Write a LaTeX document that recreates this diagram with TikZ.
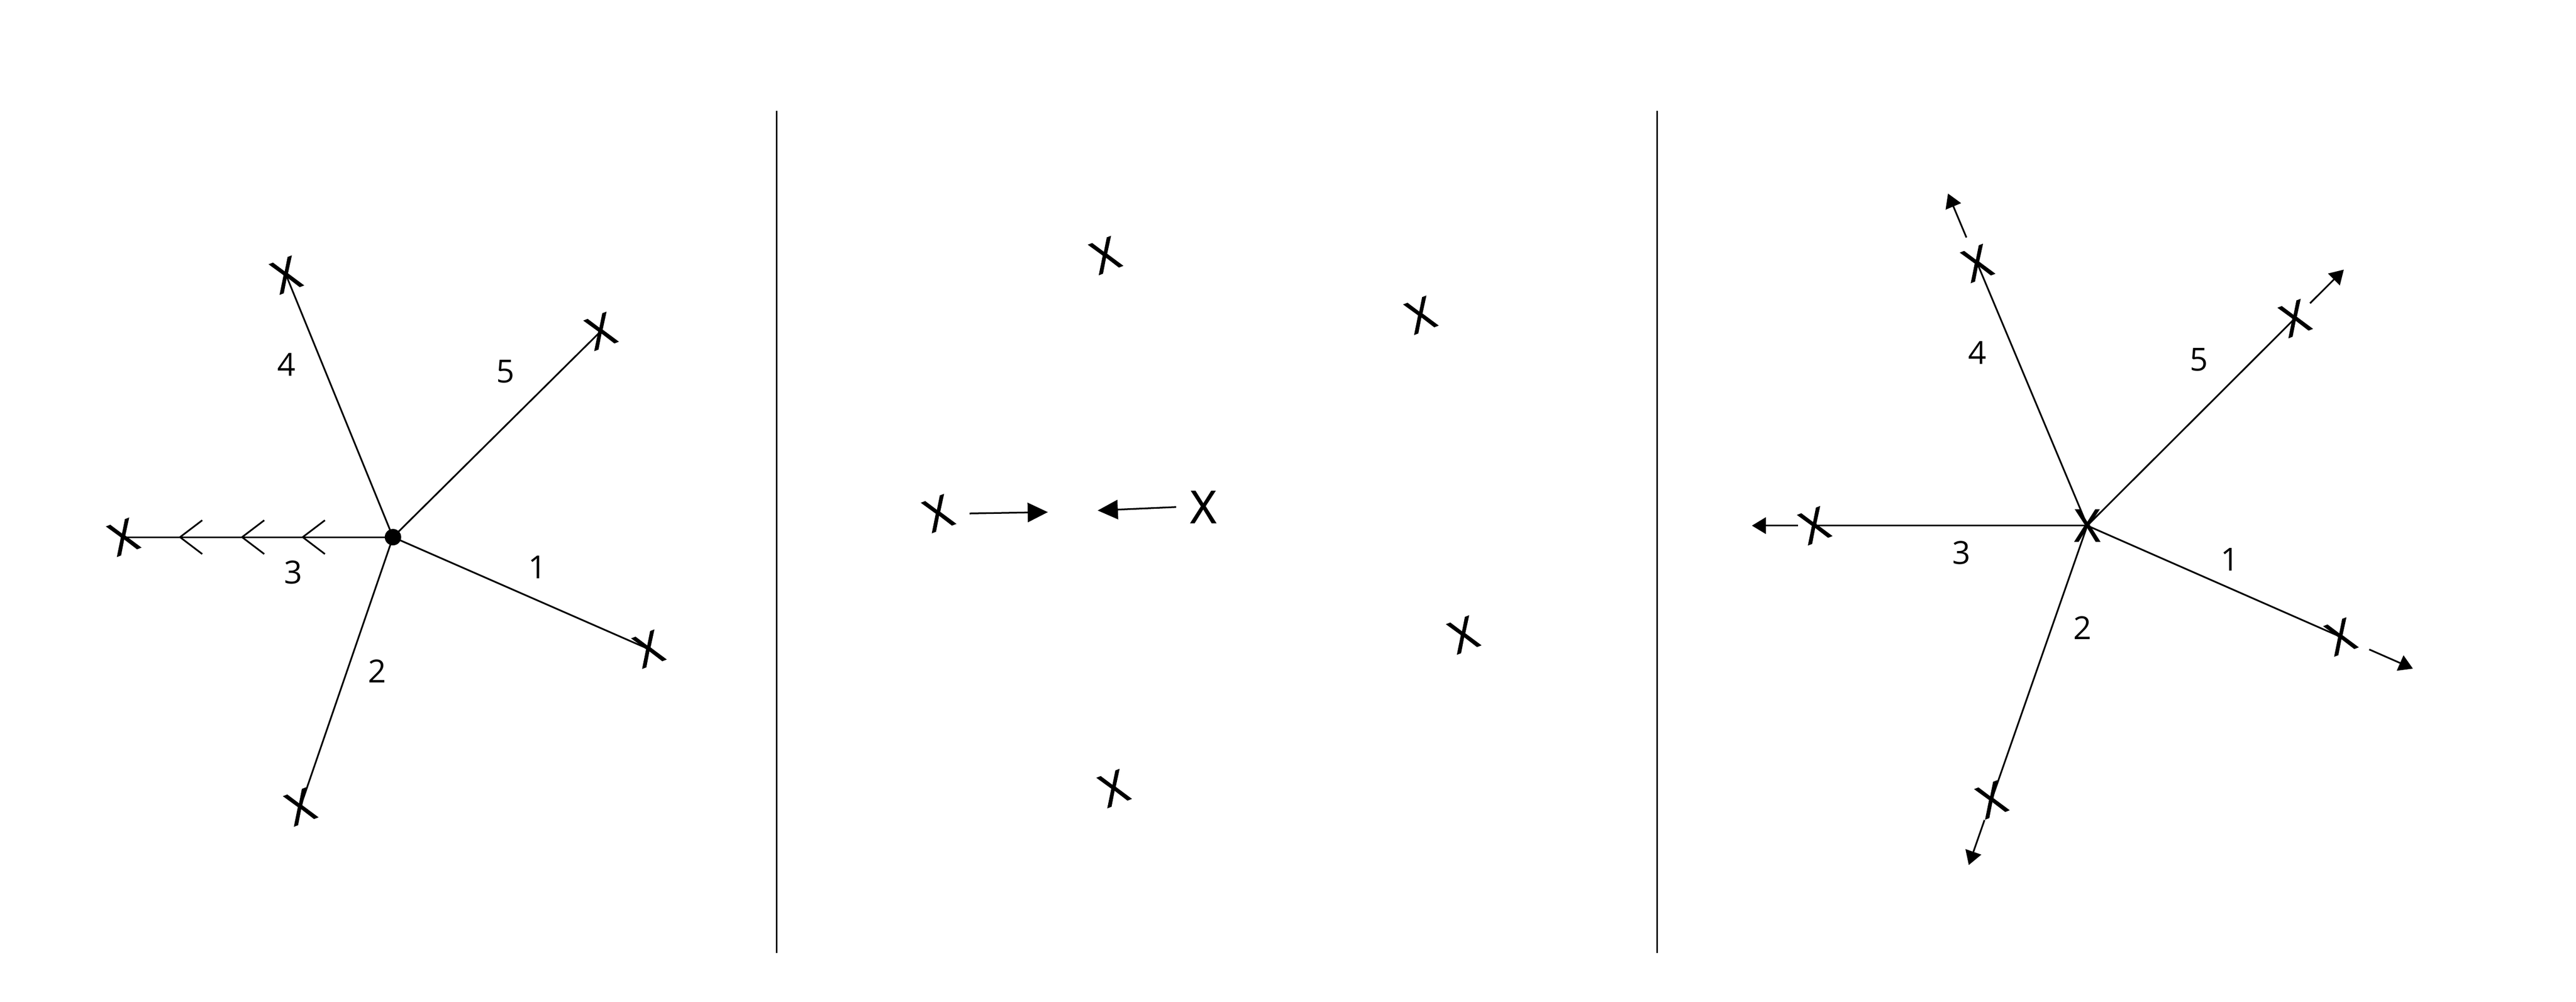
\documentclass[tikz,border=0pt]{standalone}
\usepackage{fontspec}
\setsansfont{Open Sans}
\newfontfamily\crossfont[FakeBold=1.2]{Open Sans}
\usepackage{tikz}
\usetikzlibrary{calc,positioning,arrows.meta,decorations.markings}
\tikzset{
    cross/.style={
        inner sep=0pt,
        font=\crossfont\fontsize{15.5}{16}\selectfont
    },
    tilted/.style={cross,rotate=21},
    edgenum/.style={inner sep=0pt,font=\sffamily\fontsize{11}{12}\selectfont},
    ray/.style={line width=0.58pt},
    >={Triangle[length=2.45mm,width=2.35mm]},
    push/.style={ray,->},
    escape/.style={ray,-{Triangle[length=1.7mm,width=2mm]}},
    barb/.tip={Straight Barb[length=2.7mm,width=4.1mm,line width=0.58pt]},
    backflow/.style={ray,postaction={decorate},
        decoration={markings,
            mark=at position 0.34 with {\arrow{barb}},
            mark=at position 0.565 with {\arrow{barb}},
            mark=at position 0.795 with {\arrow{barb}}}},
}

\begin{document}
\begin{tikzpicture}[x=0.02cm,y=-0.02cm]
	\useasboundingbox (0,0) rectangle (1566,608.6);

	\node[circle,fill,inner sep=0pt,minimum size=2mm] (hub) at (238.9,326.4) {};
	\foreach \n/\px/\py in {1/394.3/394.4,2/182.6/490.3,3/75/326.4,4/173.9/167.1,5/365.2/201.3}
	\node[tilted] (l\n) at (\px,\py) {X};
	\foreach \n in {1,2,4,5}
	\draw[ray] (hub.center) -- (l\n.center);
	\draw[backflow] (hub.center) -- (l3.center);
	\foreach \n/\px/\py in {1/326.8/344.6,2/229.2/407.8,3/178.2/347.8,4/174.1/221.5,5/307.4/225.6}
	\node[edgenum] (ln\n) at (\px,\py) {\n};

	\draw[ray] (472.2,67.4) -- (472.2,579.2);
	\draw[ray] (1007.4,67.4) -- (1007.4,579.2);

	\node[tilted] (mtop) at (671.9,155.2) {X};
	\node[tilted] (mright) at (863.6,191.5) {X};
	\node[tilted] (mleft) at (570.4,312) {X};
	\node[cross] (mmid) at (731.5,308.1) {X};
	\node[tilted] (mlow) at (889.6,385.8) {X};
	\node[tilted] (mbottom) at (677.1,479.1) {X};
	\coordinate (mtipA) at (637,311.2);
	\coordinate (mtipB) at (667.3,310.2);
	\draw[push] ([xshift=0.38cm]mleft.center) -- (mtipA);
	\draw[push] ([xshift=-0.33cm]mmid.center) -- (mtipB);

	\node[cross] (rc) at (1268.9,319.4) {X};
	\foreach \n/\px/\py in {1/1422.9/387,2/1210.7/486,3/1103/319.4,4/1202/160,5/1395.1/193.5}
	\node[tilted] (r\n) at (\px,\py) {X};
	\foreach \n in {1,...,5}
	\draw[ray] (rc.center) -- (r\n.center);
	\foreach \n/\a/\b in {1/-0.38cm/-0.96cm,2/-0.26cm/-0.84cm,3/-0.2cm/-0.76cm,4/-0.34cm/-0.92cm,5/-0.26cm/-0.84cm}
	\draw[escape] ($(r\n.center)!\a!(rc.center)$) -- ($(r\n.center)!\b!(rc.center)$);
	\foreach \n/\px/\py in {1/1355.7/340.1,2/1266/381.6,3/1192.3/335.9,4/1202/214.3,5/1336.8/218.6}
	\node[edgenum] (rn\n) at (\px,\py) {\n};
\end{tikzpicture}
\end{document}
